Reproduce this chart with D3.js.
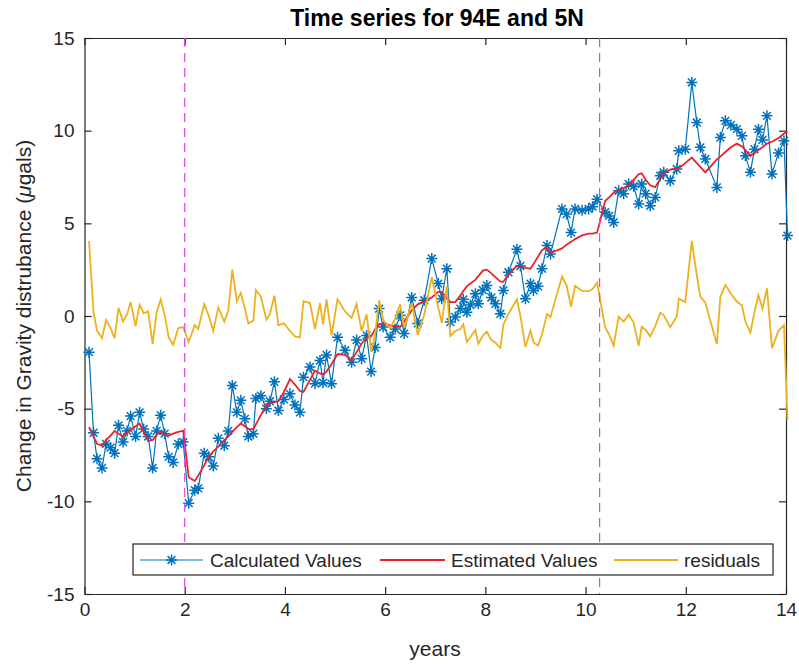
<!DOCTYPE html>
<html>
<head>
<meta charset="utf-8">
<script src="https://cdn.jsdelivr.net/npm/d3@7"></script>
<style>
  body { margin: 0; background: #fff; }
  text { font-family: "Liberation Sans", Arial, sans-serif; fill: #262626; }
</style>
</head>
<body>
<svg id="chart" width="799" height="664"></svg>
<script>
// time in years
const years = [0.09,0.18,0.25,0.35,0.43,0.52,0.60,0.68,0.77,0.85,0.92,1.02,1.10,1.18,1.27,1.36,1.44,1.52,1.60,1.68,1.77,1.87,1.97,
  2.08,2.20,2.27,2.39,2.48,2.57,2.67,2.79,2.87,2.95,3.04,3.12,3.20,3.27,3.37,3.42,3.52,3.63,3.70,3.79,3.87,3.98,
  4.10,4.20,4.30,4.37,4.50,4.60,4.70,4.76,4.83,4.93,5.05,5.20,5.33,5.43,5.53,5.63,5.72,5.80,5.88,5.96,
  6.10,6.20,6.30,6.38,6.53,6.65,6.78,6.93,7.06,7.13,7.23,7.30,7.40,7.50,7.56,7.63,7.70,7.80,7.86,7.95,
  8.03,8.12,8.20,8.30,8.36,8.46,8.63,8.70,8.80,8.90,8.96,9.05,9.13,9.23,9.30,9.53,9.62,9.71,9.79,9.93,
  10.06,10.14,10.23,10.39,10.47,10.56,10.66,10.76,10.86,10.96,11.06,11.12,11.20,11.29,11.39,11.49,11.56,11.69,11.82,11.86,11.99,
  12.12,12.22,12.29,12.39,12.62,12.69,12.79,12.90,13.02,13.12,13.19,13.29,13.37,13.45,13.53,13.62,13.72,13.85,13.96,14.03];

const calculated = [-1.95,-6.3,-7.7,-8.2,-6.9,-7.1,-7.4,-5.9,-6.8,-6.2,-5.4,-6.5,-5.2,-6.1,-6.5,-8.2,-6.2,-5.35,-6.35,-7.6,-7.9,-6.9,-6.8,
  -10.1,-9.4,-9.3,-7.4,-7.6,-8.1,-6.6,-7.0,-6.2,-3.75,-5.2,-4.55,-5.55,-6.5,-6.35,-4.45,-4.3,-5.0,-4.6,-3.55,-5.1,-4.5,
  -4.2,-4.8,-5.2,-3.3,-2.75,-3.65,-2.4,-3.6,-2.1,-3.65,-1.15,-1.85,-2.5,-1.3,-2.3,-1.05,-3.0,-1.7,0.4,-0.6,
  -1.15,-0.7,0.03,-0.95,1.0,-0.4,0.85,3.1,1.75,0.93,2.55,-0.33,-0.06,0.4,0.9,0.2,0.6,1.2,0.66,1.4,
  1.65,1.0,0.66,0.12,1.38,2.36,3.6,2.7,0.93,1.75,1.38,1.6,2.55,3.8,3.35,5.78,5.5,4.5,5.78,5.7,
  5.78,5.9,6.3,5.6,5.4,5.05,6.76,6.6,7.12,7.0,6.04,7.12,6.6,5.95,6.4,7.57,7.75,7.3,7.93,8.91,9.0,
  12.6,10.44,9.1,8.47,6.94,9.63,10.53,10.3,10.08,9.72,8.65,7.75,9.0,10.08,9.5,10.8,7.66,8.8,9.45,4.34];

const estimated = [-6.0,-6.5,-6.9,-7.0,-6.7,-6.45,-6.2,-6.35,-6.5,-6.3,-6.15,-5.95,-5.8,-6.25,-6.75,-6.7,-6.4,-6.25,-6.4,-6.45,-6.35,-6.25,-6.2,
  -8.7,-8.9,-8.6,-8.05,-7.6,-7.3,-7.05,-6.7,-6.5,-6.25,-6.0,-5.8,-5.95,-6.1,-6.1,-5.85,-5.35,-4.8,-4.7,-4.65,-4.6,-4.1,
  -3.4,-3.7,-4.05,-4.1,-3.45,-2.95,-3.1,-3.15,-3.0,-2.6,-2.05,-2.1,-2.4,-1.95,-1.5,-1.15,-1.1,-0.7,-0.45,-0.4,
  -0.5,-0.55,-0.6,-0.3,0.3,0.63,0.8,1.0,1.3,1.3,0.95,0.75,0.75,1.1,1.35,1.6,1.75,1.95,2.15,2.45,
  2.5,2.3,2.1,1.85,1.85,2.25,2.7,2.7,2.6,2.55,2.8,3.2,3.55,3.7,3.4,3.65,3.85,4.0,4.15,4.35,
  4.44,4.45,4.5,6.2,6.4,6.65,6.8,6.9,7.05,7.35,7.65,7.7,7.35,7.05,6.95,7.4,7.7,7.9,7.95,7.98,8.25,
  8.55,8.25,8.05,7.75,8.45,8.6,8.85,9.1,9.3,9.15,8.95,8.65,8.8,8.95,9.1,9.3,9.4,9.6,9.85,9.95];

const residuals = [4.05,0.2,-0.8,-1.2,-0.2,-0.65,-1.2,0.45,-0.3,0.1,0.75,-0.55,0.6,0.15,0.25,-1.5,0.2,0.9,0.05,-1.15,-1.55,-0.65,-0.6,
  -1.4,-0.5,-0.7,0.65,0.0,-0.8,0.45,-0.3,0.3,2.5,0.8,1.25,0.4,-0.4,-0.25,1.4,1.05,-0.2,0.1,1.1,-0.5,-0.4,
  -0.8,-1.1,-1.15,0.8,0.7,-0.7,0.7,-0.45,0.9,-1.05,0.9,0.25,-0.1,0.65,-0.8,0.1,-1.9,-1.0,0.85,-0.2,
  -0.65,-0.15,0.63,-0.65,0.7,-1.03,0.05,2.1,0.45,-0.37,1.6,-1.08,-0.81,-0.7,-0.45,-1.4,-1.15,-0.75,-1.49,-1.05,
  -0.85,-1.3,-1.44,-1.73,-0.47,0.11,0.9,0.0,-1.67,-0.8,-1.42,-1.6,-1.0,0.1,-0.05,2.13,1.65,0.5,1.63,1.35,
  1.34,1.45,1.8,-0.6,-1.0,-1.6,-0.04,-0.3,0.07,-0.35,-1.61,-0.58,-0.75,-1.1,-0.55,0.17,0.05,-0.6,-0.02,0.93,0.75,
  4.05,2.19,1.05,0.72,-1.51,1.03,1.68,1.2,0.78,0.57,-0.3,-0.9,0.2,1.13,0.4,1.5,-1.74,-0.8,-0.49,-5.61];

const breakYears = [2, 10.28];
const xTicks = [0, 2, 4, 6, 8, 10, 12, 14];
const yTicks = [-15, -10, -5, 0, 5, 10, 15];
const legendLabels = ["Calculated Values", "Estimated Values", "residuals"];

const colors = { calc: "#0072BD", est: "#E8232A", res: "#EDB120", brk: "#E040E8", axis: "#262626" };

const svg = d3.select("#chart");
const x = d3.scaleLinear().domain([0, 14]).range([84.5, 786]);
const y = d3.scaleLinear().domain([-15, 15]).range([594, 38]);

// title
svg.append("text")
  .attr("x", 437).attr("y", 26)
  .attr("text-anchor", "middle")
  .style("font-size", "23px").style("font-weight", "bold").style("fill", "#000")
  .text("Time series for 94E and 5N");

// axes with inner ticks on all sides
const tick = 7;
const gx = svg.append("g").attr("transform", `translate(0,${y(-15)})`)
  .call(d3.axisBottom(x).tickValues(xTicks).tickSizeInner(-tick).tickSizeOuter(0).tickPadding(9).tickFormat(d => String(d)));
const gxt = svg.append("g").attr("transform", `translate(0,${y(15)})`)
  .call(d3.axisTop(x).tickValues(xTicks).tickSizeInner(-tick).tickSizeOuter(0).tickFormat(""));
const gy = svg.append("g").attr("transform", `translate(${x(0)},0)`)
  .call(d3.axisLeft(y).tickValues(yTicks).tickSizeInner(-tick).tickSizeOuter(0).tickPadding(10).tickFormat(d => String(d)));
const gyr = svg.append("g").attr("transform", `translate(${x(14)},0)`)
  .call(d3.axisRight(y).tickValues(yTicks).tickSizeInner(-tick).tickSizeOuter(0).tickFormat(""));

[gx, gxt, gy, gyr].forEach(g => {
  g.selectAll("path,line").attr("stroke", colors.axis).attr("stroke-width", 1.2);
  g.selectAll("text").style("font-size", "19px").attr("fill", colors.axis);
});

// axis labels
svg.append("text")
  .attr("x", 435).attr("y", 656)
  .attr("text-anchor", "middle")
  .style("font-size", "21px")
  .text("years");

const yl = svg.append("text")
  .attr("transform", `translate(31,316) rotate(-90)`)
  .attr("text-anchor", "middle")
  .style("font-size", "21px");
yl.append("tspan").text("Change in Gravity distrubance (");
yl.append("tspan").style("font-style", "italic").text("\u03bc");
yl.append("tspan").text("gals)");

const idx = d3.range(years.length);

// calculated values
const line = (arr) => d3.line().x(i => x(years[i])).y(i => y(arr[i]));
const star = "M-5.5,0L5.5,0M0,-5.5L0,5.5M-3.9,-3.9L3.9,3.9M-3.9,3.9L3.9,-3.9";

svg.append("path").datum(idx)
  .attr("fill", "none").attr("stroke", colors.calc).attr("stroke-width", 1.2)
  .attr("d", line(calculated));
svg.append("g").selectAll("path").data(idx).enter().append("path")
  .attr("transform", i => `translate(${x(years[i])},${y(calculated[i])})`)
  .attr("d", star)
  .attr("stroke", colors.calc).attr("stroke-width", 1.5).attr("fill", "none");

// estimated values
svg.append("path").datum(idx)
  .attr("fill", "none").attr("stroke", colors.est).attr("stroke-width", 1.8)
  .attr("d", line(estimated));

// residuals
svg.append("path").datum(idx)
  .attr("fill", "none").attr("stroke", colors.res).attr("stroke-width", 1.8)
  .attr("d", line(residuals));

// break lines
svg.append("g").selectAll("line").data(breakYears).enter().append("line")
  .attr("x1", d => x(d)).attr("x2", d => x(d))
  .attr("y1", y(15)).attr("y2", y(-15))
  .attr("stroke", colors.brk).attr("stroke-width", 1.2)
  .attr("stroke-dasharray", "9,6");

// legend
const lg = svg.append("g");
lg.append("rect")
  .attr("x", 133).attr("y", 544).attr("width", 640).attr("height", 31)
  .attr("fill", "#fff").attr("stroke", colors.axis).attr("stroke-width", 1.2);

const entries = [
  { x0: 140, x1: 203, tx: 210, color: colors.calc, w: 1.2, marker: true },
  { x0: 380, x1: 445, tx: 451, color: colors.est, w: 1.8, marker: false },
  { x0: 614, x1: 678, tx: 684, color: colors.res, w: 1.8, marker: false }
];
entries.forEach((e, k) => {
  const cy = 560;
  lg.append("line").attr("x1", e.x0).attr("x2", e.x1).attr("y1", cy).attr("y2", cy)
    .attr("stroke", e.color).attr("stroke-width", e.w);
  if (e.marker) {
    lg.append("path").attr("transform", `translate(${(e.x0 + e.x1) / 2},${cy})`)
      .attr("d", star).attr("stroke", e.color).attr("stroke-width", 1.5).attr("fill", "none");
  }
  lg.append("text").attr("x", e.tx).attr("y", cy + 7)
    .style("font-size", "19px")
    .text(legendLabels[k]);
});
</script>
</body>
</html>
